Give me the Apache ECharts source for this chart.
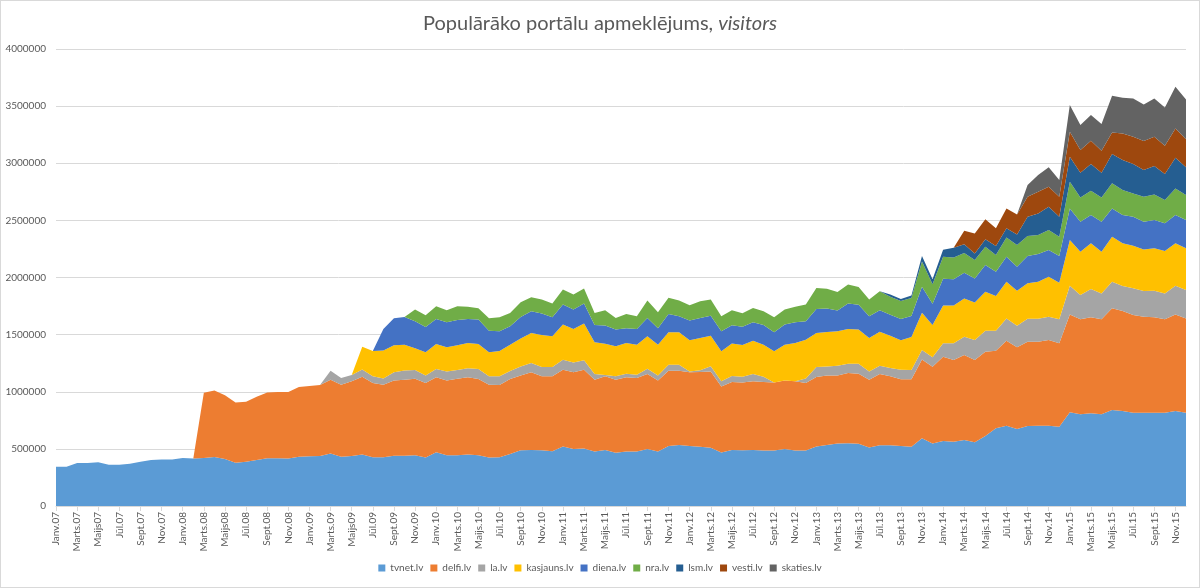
<!DOCTYPE html>
<html>
<head>
<meta charset="utf-8">
<title>Populārāko portālu apmeklējums</title>
<script src="https://cdn.jsdelivr.net/npm/echarts@6.0.0/dist/echarts.min.js"></script>
<style>
  html, body { margin: 0; padding: 0; background: #fff; }
  #chart { width: 1198px; height: 586px; border: 1px solid #d9d9d9; }
</style>
</head>
<body>
<div id="chart"></div>
<script>
// Mēnešu kategorijas (Janv.07 .. Dec.15)
const categories = [
  'Janv.07','Febr.07','Marts.07','Apr.07','Maijs07','Jūn.07','Jūl.07','Aug.07','Sept.07','Okt.07','Nov.07','Dec.07',
  'Janv.08','Febr.08','Marts.08','Apr.08','Maijs08','Jūn.08','Jūl.08','Aug.08','Sept.08','Okt.08','Nov.08','Dec.08',
  'Janv.09','Febr.09','Marts.09','Apr.09','Maijs09','Jūn.09','Jūl.09','Aug.09','Sept.09','Okt.09','Nov.09','Dec.09',
  'Janv.10','Febr.10','Marts.10','Apr.10','Maijs.10','Jūn.10','Jūl.10','Aug.10','Sept.10','Okt.10','Nov.10','Dec.10',
  'Janv.11','Febr.11','Marts.11','Apr.11','Maijs.11','Jūn.11','Jūl.11','Aug.11','Sept.11','Okt.11','Nov.11','Dec.11',
  'Janv.12','Febr.12','Marts.12','Apr.12','Maijs.12','Jūn.12','Jūl.12','Aug.12','Sept.12','Okt.12','Nov.12','Dec.12',
  'Janv.13','Febr.13','Marts.13','Apr.13','Maijs.13','Jūn.13','Jūl.13','Aug.13','Sept.13','Okt.13','Nov.13','Dec.13',
  'Janv.14','Febr.14','Marts.14','Apr.14','Maijs.14','Jūn.14','Jūl.14','Aug.14','Sept.14','Okt.14','Nov.14','Dec.14',
  'Janv.15','Febr.15','Marts.15','Apr.15','Maijs.15','Jūn.15','Jūl.15','Aug.15','Sept.15','Okt.15','Nov.15','Dec.15'
]

const tvnet = [
  344000,344000,376000,376000,382000,362000,362000,370000,388000,403000,406000,406000,
  420000,415000,420000,429000,412000,379000,388000,403000,418000,418000,415000,432000,
  435000,438000,459000,431000,437000,450000,427000,427000,439000,439000,444000,424000,
  471000,444000,444000,450000,444000,424000,427000,456000,488000,491000,488000,480000,
  520000,500000,503000,477000,491000,465000,477000,477000,500000,477000,526000,535000,
  526000,518000,509000,468000,491000,488000,491000,485000,485000,500000,485000,485000,
  520000,535000,547000,550000,544000,512000,532000,532000,525000,519000,592000,548000,
  569000,563000,578000,557000,613000,680000,703000,674000,700000,703000,703000,694000,
  820000,802000,811000,802000,840000,831000,817000,817000,817000,817000,831000,817000
]
const delfi = [
  0,0,0,0,0,0,0,0,0,0,0,0,
  0,0,571000,583000,558000,527000,524000,553000,576000,579000,582000,609000,
  615000,621000,646000,630000,655000,682000,649000,634000,660000,666000,670000,652000,
  655000,655000,670000,676000,667000,637000,632000,655000,655000,679000,647000,655000,
  673000,670000,690000,628000,644000,640000,649000,643000,655000,622000,658000,649000,
  644000,655000,669000,579000,594000,594000,600000,600000,597000,599000,606000,591000,
  609000,608000,596000,614000,614000,593000,623000,603000,585000,591000,691000,671000,
  738000,715000,743000,721000,738000,679000,744000,715000,738000,735000,750000,730000,
  857000,832000,840000,832000,890000,875000,854000,840000,834000,817000,846000,825000
]
const la = [
  0,0,0,0,0,0,0,0,0,0,0,0,
  0,0,0,0,0,0,0,0,0,0,0,0,
  0,0,79000,59000,54000,62000,59000,56000,71000,82000,76000,67000,
  73000,79000,76000,79000,88000,74000,76000,70000,79000,81000,81000,81000,
  88000,87000,82000,50000,12000,30000,32000,29000,47000,44000,53000,53000,
  8000,15000,45000,44000,53000,50000,64000,47000,0,0,0,40000,
  87000,79000,85000,82000,88000,73000,73000,73000,82000,80000,82000,82000,
  117000,146000,161000,175000,183000,175000,195000,189000,201000,201000,204000,210000,
  251000,212000,248000,227000,233000,219000,234000,224000,233000,227000,251000,248000
]
const kasjauns = [
  0,0,0,0,0,0,0,0,0,0,0,0,
  0,0,0,0,0,0,0,0,0,0,0,0,
  0,0,0,0,0,200000,222000,243000,236000,225000,190000,202000,
  219000,211000,216000,222000,219000,210000,222000,231000,243000,264000,281000,269000,
  307000,293000,322000,278000,274000,263000,269000,263000,283000,269000,284000,284000,
  272000,283000,268000,263000,284000,277000,292000,280000,272000,313000,336000,340000,
  299000,302000,301000,304000,298000,293000,298000,283000,258000,290000,327000,283000,
  332000,332000,335000,329000,342000,304000,321000,306000,310000,324000,350000,320000,
  400000,380000,400000,365000,394000,374000,373000,365000,371000,371000,371000,365000
]
const diena = [
  0,0,0,0,0,0,0,0,0,0,0,0,
  0,0,0,0,0,0,0,0,0,0,0,0,
  0,0,0,0,0,0,0,190000,237000,243000,237000,222000,
  219000,219000,223000,210000,214000,190000,172000,161000,190000,190000,187000,167000,
  175000,169000,175000,152000,158000,146000,129000,138000,161000,144000,160000,140000,
  173000,175000,175000,175000,161000,161000,161000,173000,167000,176000,181000,161000,
  210000,204000,182000,222000,217000,190000,187000,184000,186000,182000,227000,186000,
  234000,228000,225000,210000,233000,213000,219000,210000,239000,242000,233000,234000,
  277000,262000,248000,262000,248000,248000,254000,242000,248000,242000,248000,248000
]
const nra = [
  0,0,0,0,0,0,0,0,0,0,0,0,
  0,0,0,0,0,0,0,0,0,0,0,0,
  0,0,0,0,0,0,0,0,0,0,102000,103000,
  112000,105000,120000,106000,99000,108000,123000,117000,129000,123000,123000,120000,
  132000,132000,132000,105000,134000,102000,124000,111000,152000,140000,141000,137000,
  134000,146000,141000,132000,131000,117000,126000,120000,131000,131000,135000,146000,
  184000,173000,163000,167000,155000,146000,167000,157000,159000,158000,221000,170000,
  192000,191000,172000,161000,160000,146000,169000,190000,175000,167000,175000,169000,
  233000,213000,213000,213000,219000,218000,204000,219000,224000,204000,233000,219000
]
const lsm = [
  0,0,0,0,0,0,0,0,0,0,0,0,
  0,0,0,0,0,0,0,0,0,0,0,0,
  0,0,0,0,0,0,0,0,0,0,0,0,
  0,0,0,0,0,0,0,0,0,0,0,0,
  0,0,0,0,0,0,0,0,0,0,0,0,
  0,0,0,0,0,0,0,0,0,0,0,0,
  0,0,0,0,0,0,0,20000,17000,22000,48000,45000,
  61000,85000,76000,58000,65000,78000,79000,93000,169000,189000,204000,175000,
  219000,216000,233000,216000,256000,263000,257000,233000,248000,227000,268000,242000
]
const vesti = [
  0,0,0,0,0,0,0,0,0,0,0,0,
  0,0,0,0,0,0,0,0,0,0,0,0,
  0,0,0,0,0,0,0,0,0,0,0,0,
  0,0,0,0,0,0,0,0,0,0,0,0,
  0,0,0,0,0,0,0,0,0,0,0,0,
  0,0,0,0,0,0,0,0,0,0,0,0,
  0,0,0,0,0,0,0,0,0,0,0,0,
  0,0,119000,175000,175000,155000,175000,175000,175000,190000,176000,175000,
  219000,198000,204000,193000,190000,233000,239000,254000,257000,248000,257000,245000
]
const skaties = [
  0,0,0,0,0,0,0,0,0,0,0,0,
  0,0,0,0,0,0,0,0,0,0,0,0,
  0,0,0,0,0,0,0,0,0,0,0,0,
  0,0,0,0,0,0,0,0,0,0,0,0,
  0,0,0,0,0,0,0,0,0,0,0,0,
  0,0,0,0,0,0,0,0,0,0,0,0,
  0,0,0,0,0,0,0,0,0,0,0,0,
  0,0,0,0,0,0,0,0,102000,146000,169000,146000,
  233000,219000,225000,233000,321000,312000,335000,321000,335000,335000,365000,350000
]

const seriesDefs = [
  ['tvnet.lv', tvnet, '#5B9BD5'],
  ['delfi.lv', delfi, '#ED7D31'],
  ['la.lv', la, '#A5A5A5'],
  ['kasjauns.lv', kasjauns, '#FFC000'],
  ['diena.lv', diena, '#4472C4'],
  ['nra.lv', nra, '#70AD47'],
  ['lsm.lv', lsm, '#255E91'],
  ['vesti.lv', vesti, '#9E480E'],
  ['skaties.lv', skaties, '#636363']
]

const textColor = '#595959'
const font = 'Lato, "Open Sans", sans-serif'

const chart = echarts.init(document.getElementById('chart'), null, { renderer: 'canvas' })
chart.setOption({
  animation: false,
  color: seriesDefs.map(s => s[2]),
  title: {
    text: '{a|Populārāko portālu apmeklējums, }{b|visitors}',
    left: 'center',
    top: 8,
    textStyle: {
      fontWeight: 'normal',
      rich: {
        a: { fontSize: 20, color: textColor, fontFamily: font, fontWeight: 'normal' },
        b: { fontSize: 20, color: textColor, fontFamily: font, fontWeight: 'normal', fontStyle: 'italic' }
      }
    }
  },
  legend: {
    bottom: 9,
    left: 'center',
    icon: 'rect',
    itemWidth: 7,
    itemHeight: 7,
    itemGap: 7,
    textStyle: { color: textColor, fontSize: 10, fontFamily: font },
    data: seriesDefs.map(s => s[0])
  },
  grid: { left: 55, right: 13, top: 48, bottom: 81, containLabel: false },
  xAxis: {
    type: 'category',
    boundaryGap: false,
    data: categories,
    axisLine: { lineStyle: { color: '#D9D9D9' } },
    axisTick: { interval: 1, lineStyle: { color: '#D9D9D9' } },
    axisLabel: {
      interval: 1,
      rotate: 90,
      color: textColor,
      fontSize: 10,
      fontFamily: font,
      margin: 6
    }
  },
  yAxis: {
    type: 'value',
    min: 0,
    max: 4000000,
    interval: 500000,
    axisLine: { show: false },
    axisTick: { show: false },
    splitLine: { lineStyle: { color: '#D9D9D9' } },
    axisLabel: {
      color: textColor,
      fontSize: 10,
      fontFamily: font,
      margin: 10,
      formatter: v => String(v)
    }
  },
  series: seriesDefs.map(([name, values, color]) => ({
    name,
    type: 'line',
    stack: 'total',
    data: values,
    symbol: 'none',
    lineStyle: { width: 0 },
    areaStyle: { color, opacity: 1 },
    itemStyle: { color }
  }))
})
</script>
</body>
</html>
